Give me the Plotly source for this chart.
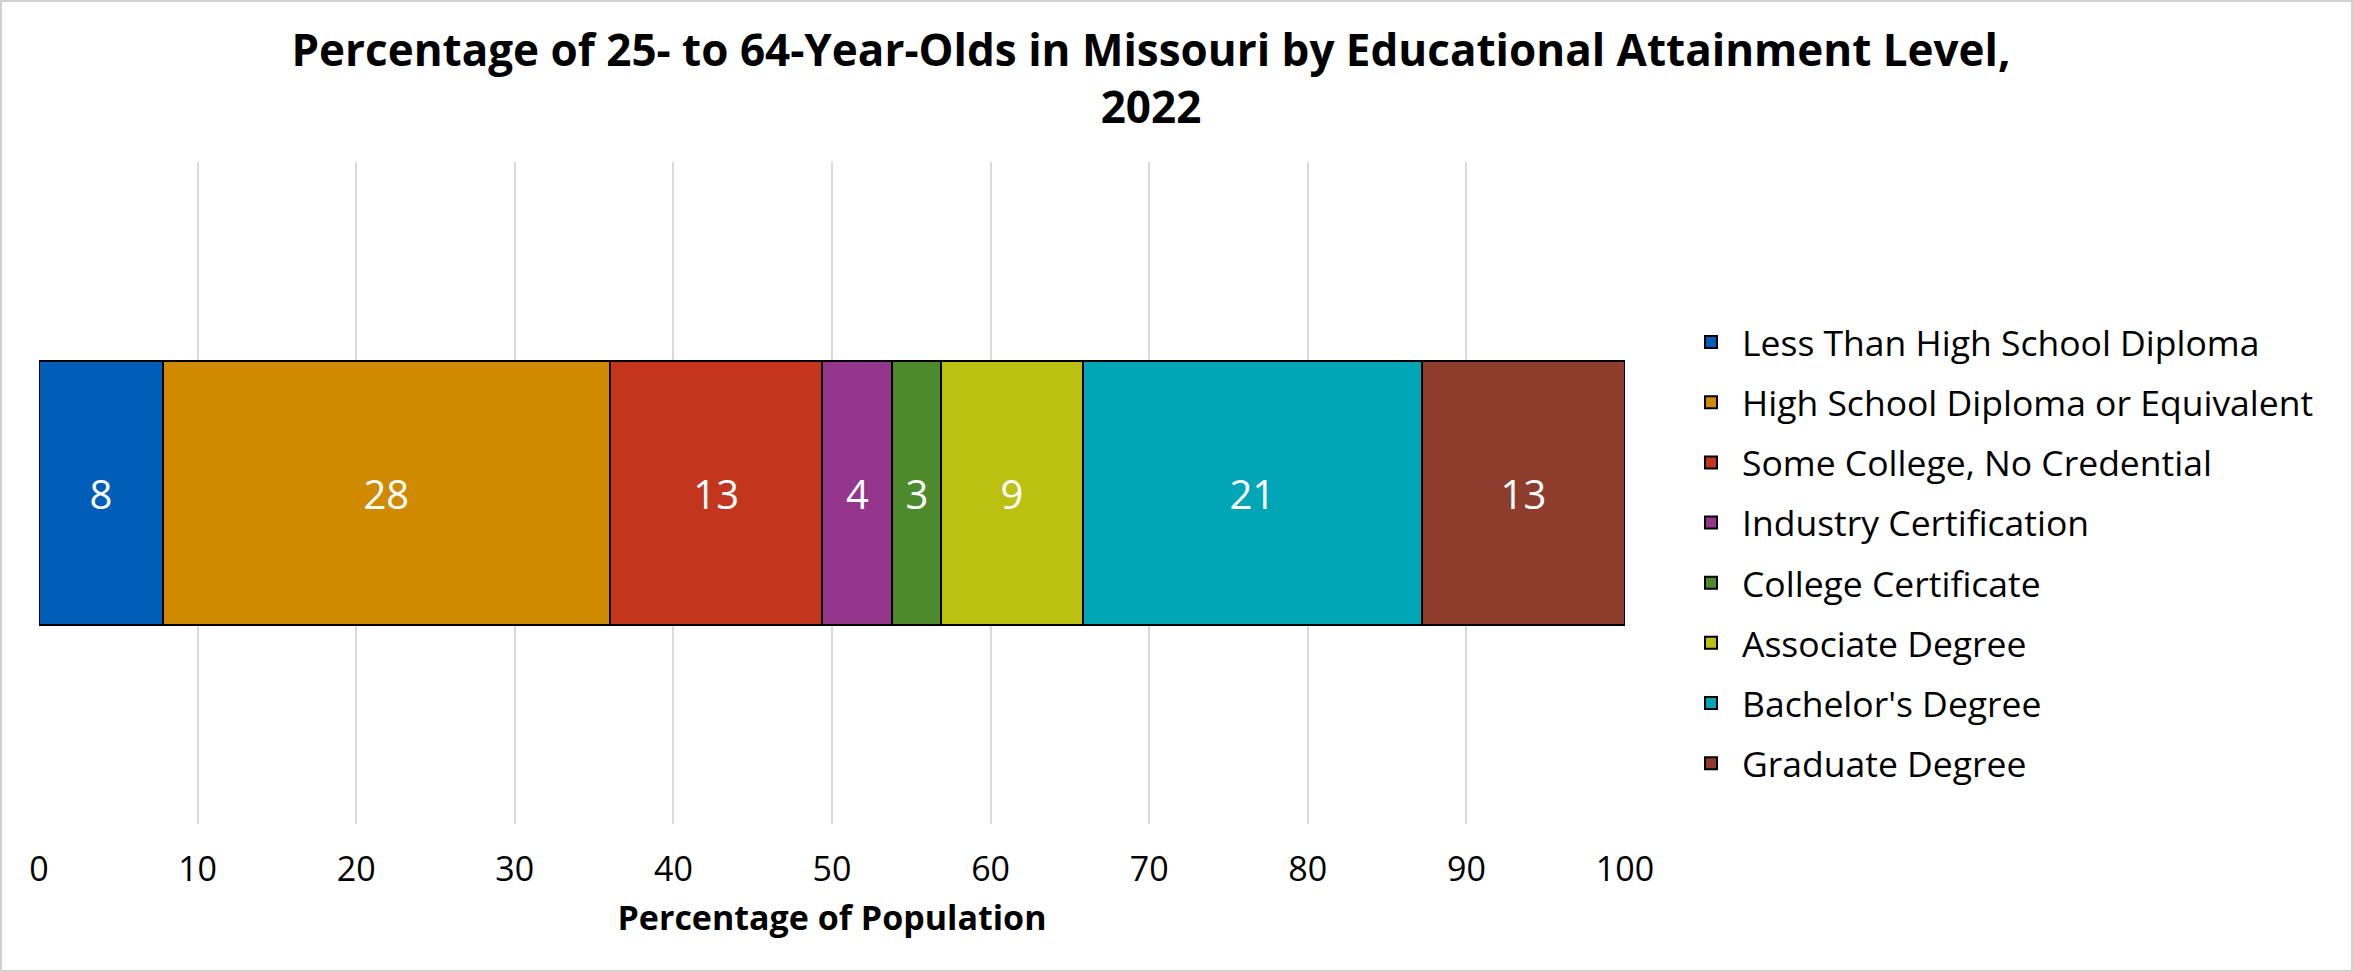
import plotly.graph_objects as go

categories = ["Missouri"]
levels = [
    "Less Than High School Diploma",
    "High School Diploma or Equivalent",
    "Some College, No Credential",
    "Industry Certification",
    "College Certificate",
    "Associate Degree",
    "Bachelor's Degree",
    "Graduate Degree",
]
values = [7.8, 28.2, 13.4, 4.4, 3.1, 8.9, 21.4, 12.8]
colors = ["#005EB8", "#CF8A00", "#C3361D", "#94368B", "#4C8A2C", "#BBC011", "#00A6B5", "#8E3D2C"]
tick_vals = list(range(0, 101, 10))

W, H = 2353, 972
ml, mr, mt, mb = 39, 728, 162, 148
pw, ph = W - ml - mr, H - mt - mb
FONT = "Open Sans"

fig = go.Figure()
for name, v, c in zip(levels, values, colors):
    fig.add_trace(go.Bar(
        y=categories, x=[v], name=name, orientation="h",
        marker=dict(color=c, line=dict(color="black", width=2)),
        texttemplate="%{x:.0f}", textposition="inside", insidetextanchor="middle",
        textfont=dict(color="white", size=40, family=FONT),
        legendgroup=name,
    ))

fig.update_layout(
    width=W, height=H,
    margin=dict(l=ml, r=mr, t=mt, b=mb, autoexpand=False),
    barmode="stack", bargap=0.6,
    paper_bgcolor="white", plot_bgcolor="white",
    font=dict(family=FONT, color="black"),
    title=dict(
        text="<b>Percentage of 25- to 64-Year-Olds in Missouri by Educational Attainment Level,<br>2022</b>",
        x=1151 / W, xanchor="center", y=1 - 66 / H, yanchor="middle",
        font=dict(size=44, family=FONT, color="black"),
    ),
    xaxis=dict(
        range=[0, 100], tickvals=tick_vals, showgrid=True, gridcolor="#d9d9d9", gridwidth=2,
        zeroline=False, showline=False, ticks="", ticklabelstandoff=22,
        tickfont=dict(size=34, family=FONT, color="black"),
        title=dict(text="<b>Percentage of Population</b>", font=dict(size=34, family=FONT, color="black"), standoff=16),
    ),
    yaxis=dict(showticklabels=False, showgrid=False, zeroline=False, range=[-0.5, 0.5]),
    legend=dict(
        x=(1680 - ml) / pw, xanchor="left", y=(H - mb - 553) / ph, yanchor="middle",
        traceorder="grouped", tracegroupgap=11,
        font=dict(size=35.5, family=FONT, color="black"),
        itemwidth=52,
    ),
    shapes=[dict(type="rect", xref="paper", yref="paper",
                 x0=-(ml - 1) / pw, x1=(W - ml - 1) / pw, y0=-(mb - 1) / ph, y1=(H - mb - 1) / ph,
                 line=dict(color="#d0d0d0", width=2), fillcolor="rgba(0,0,0,0)", layer="below")],
)

fig.write_html("out.html")
